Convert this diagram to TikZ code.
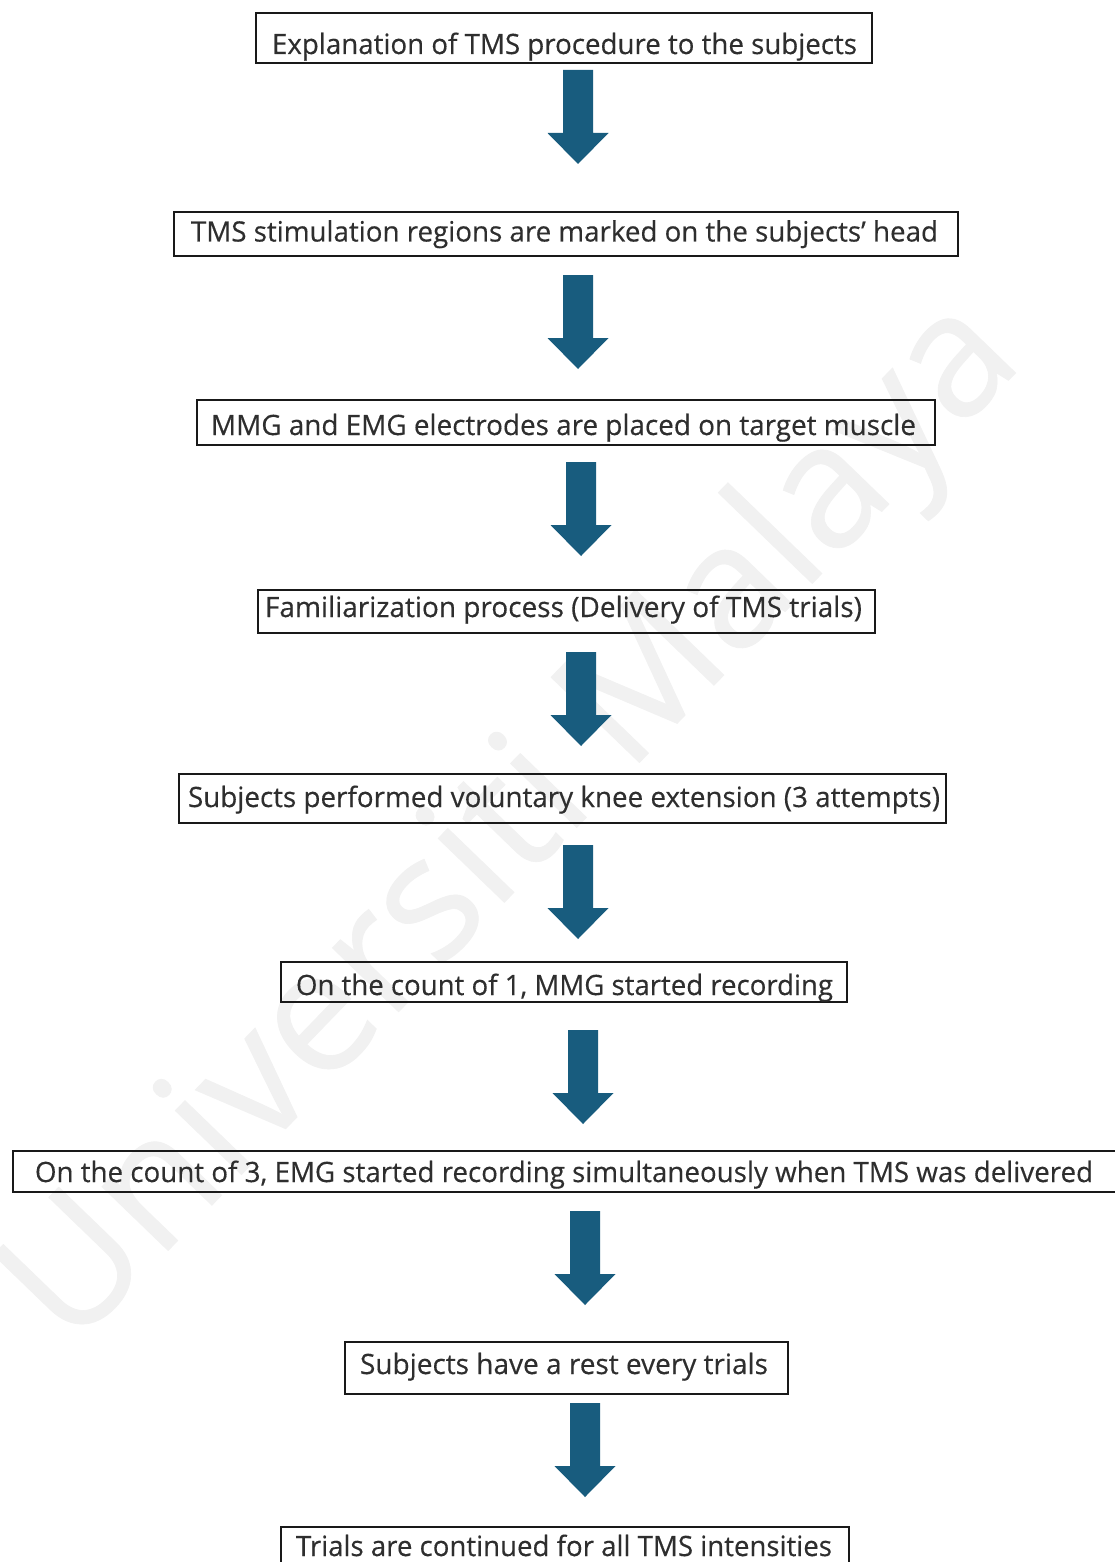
\documentclass[tikz,border=0pt]{standalone}
\usepackage{fontspec}
\setmainfont{Open Sans}[FakeBold=0.35]
\usepackage{graphicx}
\definecolor{arrowblue}{RGB}{24,92,126}
\definecolor{wmgray}{RGB}{241,241,241}
\newcommand\fitw[2]{\resizebox{#1pt}{\height}{#2}}
\newcommand\blockarr[3]{%
  \coordinate (#3t) at (#1,#2);
  \coordinate (#3h) at (#1,#2+94);
  \fill[arrowfill] ($(#3t)+(-15,0)$) -- ($(#3t)+(15,0)$) -- ($(#3h)+(15,-31)$) -- ($(#3h)+(30.5,-31)$) -- (#3h) -- ($(#3h)+(-30.5,-31)$) -- ($(#3h)+(-15,-31)$) -- cycle;}
\usetikzlibrary{calc}
\begin{document}
\begin{tikzpicture}[x=1pt,y=-1pt,
  box/.style={draw=black!90, line width=2.2pt, fill=none, inner sep=0pt, rectangle},
  txt/.style={inner sep=0pt, anchor=base, text=black!82, font=\fontsize{28}{33}\selectfont},
  arrowfill/.style={fill=arrowblue},
  wm/.style={text=wmgray, inner sep=0pt, font=\fontsize{172}{190}\selectfont}]
\clip (0,0) rectangle (1115,1562);
\fill[white] (0,0) rectangle (1115,1562);
% watermark
\node[wm, rotate=46] (wmk) at (516,826) {Universiti Malaya};
% boxes
\node[box, minimum width=616pt, minimum height=50pt] (b1) at (564,38) {};
\node[box, minimum width=784pt, minimum height=44pt] (b2) at (566,234) {};
\node[box, minimum width=738pt, minimum height=45pt] (b3) at (566,422.5) {};
\node[box, minimum width=617pt, minimum height=43pt] (b4) at (566.5,611.5) {};
\node[box, minimum width=767pt, minimum height=49pt] (b5) at (562.5,798.5) {};
\node[box, minimum width=566pt, minimum height=40pt] (b6) at (564,982) {};
\node[box, minimum width=1117pt, minimum height=41pt] (b7) at (571.5,1171.5) {};
\node[box, minimum width=443pt, minimum height=52pt] (b8) at (566.5,1368) {};
\node[box, minimum width=568pt, minimum height=73pt] (b9) at (565,1563.5) {};
% texts
\node[txt] (t1) at (564.5,54) {\fitw{585}{Explanation of TMS procedure to the subjects}};
\node[txt] (t2) at (564.5,241.5) {\fitw{747}{TMS stimulation regions are marked on the subjects’ head}};
\node[txt] (t3) at (563.5,435) {\fitw{705}{MMG and EMG electrodes are placed on target muscle}};
\node[txt] (t4) at (563.5,617) {\fitw{597}{Familiarization process (Delivery of TMS trials)}};
\node[txt] (t5) at (564,807) {\fitw{752}{Subjects performed voluntary knee extension (3 attempts)}};
\node[txt] (t6) at (564.5,995) {\fitw{537}{On the count of 1, MMG started recording}};
\node[txt] (t7) at (564,1182) {\fitw{1058}{On the count of 3, EMG started recording simultaneously when TMS was delivered}};
\node[txt] (t8) at (564,1374) {\fitw{408}{Subjects have a rest every trials}};
\node[txt] (t9) at (564,1556) {\fitw{536}{Trials are continued for all TMS intensities}};
% arrows
\blockarr{578}{70}{a1}
\blockarr{578}{275}{a2}
\blockarr{581}{462}{a3}
\blockarr{581}{652}{a4}
\blockarr{578}{845}{a5}
\blockarr{583}{1030}{a6}
\blockarr{585}{1211}{a7}
\blockarr{585}{1403}{a8}
\end{tikzpicture}
\end{document}
